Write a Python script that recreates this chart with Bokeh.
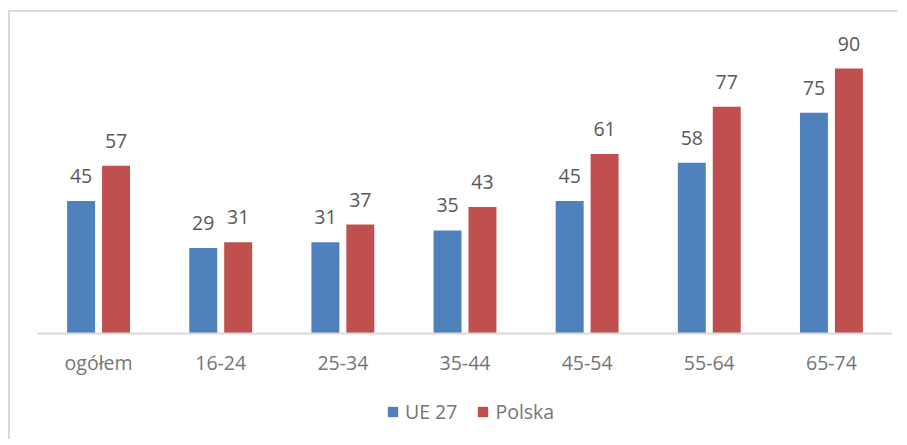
from bokeh.plotting import figure
from bokeh.models import ColumnDataSource, Legend, LegendItem, FactorRange
from bokeh.core.properties import value
from bokeh.transform import dodge
from bokeh.embed import file_html
from bokeh.resources import INLINE

categories = ["ogółem", "16-24", "25-34", "35-44", "45-54", "55-64", "65-74"]
ue27 = [45, 29, 31, 35, 45, 58, 75]
polska = [57, 31, 37, 43, 61, 77, 90]
series_names = ["UE 27", "Polska"]

BLUE = "#4F81BD"
RED = "#C0504D"
FONT = "Open Sans"
FS = "19.5px"

# layout: frame covers the whole inner canvas; x axis is pinned at y=0
FRAME_H = 420
PX_PER_UNIT = 2.944
Y_TOP = 312 / PX_PER_UNIT
Y_BOTTOM = Y_TOP - FRAME_H / PX_PER_UNIT

src = ColumnDataSource(dict(cat=categories, ue=ue27, pl=polska,
                            ue_t=[str(v) for v in ue27], pl_t=[str(v) for v in polska]))

p = figure(x_range=FactorRange(*categories), y_range=(Y_BOTTOM, Y_TOP),
           width=889, height=9 + FRAME_H, output_backend="svg", toolbar_location=None,
           min_border_left=27, min_border_right=7, min_border_top=9, min_border_bottom=0)
p.styles = {"border-top": "2px solid #d9d9d9", "border-left": "2px solid #d9d9d9",
            "margin-top": "10px", "margin-left": "8px"}

r1 = p.vbar(x=dodge("cat", -0.143, range=p.x_range), top="ue", bottom=0, width=0.229,
            source=src, color=BLUE, line_color=None)
r2 = p.vbar(x=dodge("cat", 0.143, range=p.x_range), top="pl", bottom=0, width=0.229,
            source=src, color=RED, line_color=None)

p.text(x=dodge("cat", -0.143, range=p.x_range), y="ue", text="ue_t", source=src,
       text_align="center", text_baseline="alphabetic", y_offset=-25,
       text_font=value(FONT), text_font_size=value(FS), text_color="#595959")
p.text(x=dodge("cat", 0.143, range=p.x_range), y="pl", text="pl_t", source=src,
       text_align="center", text_baseline="alphabetic", y_offset=-25,
       text_font=value(FONT), text_font_size=value(FS), text_color="#595959")

p.xgrid.grid_line_color = None
p.ygrid.grid_line_color = None
p.yaxis.visible = False
p.outline_line_color = None
p.x_range.range_padding = 0
p.x_range.group_padding = 0

ax = p.xaxis[0]
ax.fixed_location = 0
ax.axis_line_color = "#d9d9d9"
ax.axis_line_width = 2
ax.major_tick_line_color = None
ax.minor_tick_line_color = None
ax.major_label_standoff = 9
ax.major_label_text_font = FONT
ax.major_label_text_font_size = FS
ax.major_label_text_color = "#757575"

legend = Legend(items=[LegendItem(label=series_names[0], renderers=[r1]),
                       LegendItem(label=series_names[1], renderers=[r2])],
                orientation="horizontal", location=(349, 16),
                glyph_width=13, glyph_height=13, label_standoff=6, spacing=19,
                padding=0, margin=0, border_line_color=None, background_fill_alpha=0,
                label_text_font=FONT, label_text_font_size=FS, label_text_color="#757575")
p.add_layout(legend, "center")

open("out.html", "w").write(file_html(p, INLINE))
